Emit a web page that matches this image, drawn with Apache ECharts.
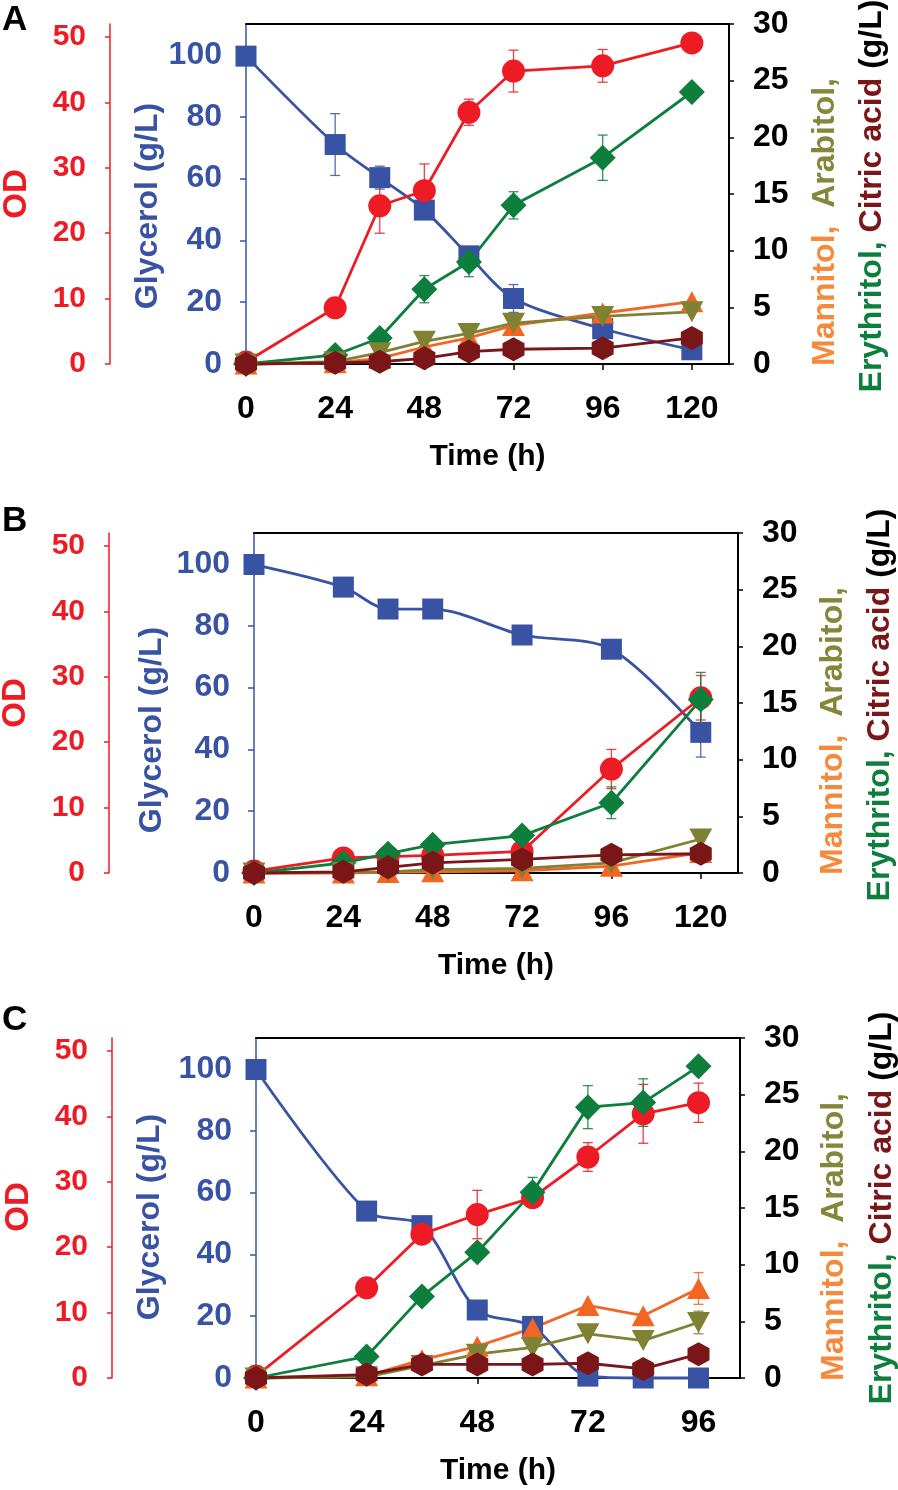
<!DOCTYPE html>
<html>
<head>
<meta charset="utf-8">
<script src="https://cdn.jsdelivr.net/npm/echarts@6/dist/echarts.min.js"></script>
<style>
html,body{margin:0;padding:0;background:#ffffff;}
#chart{width:898px;height:1490px;}
</style>
</head>
<body>
<div id="chart"></div>
<script>
// ---------------- DATA ----------------
// Panel A
const timeA = [0, 24, 36, 48, 60, 72, 96, 120];
const glyA  = [99.6, 71, 60.3, 49.8, 35, 21.2, 11.4, 4.6];
const glyErrA = [0, 10, 3.7, 0, 2, 4.5, 0, 0];
const odA   = [0.3, 8.6, 24.2, 26.5, 38.5, 44.8, 45.6, 49.1];
const odErrA = [0, 0.8, 4.2, 4.1, 2.0, 3.2, 2.5, 0];
const eryA  = [0, 0.8, 2.3, 6.6, 9.0, 14.0, 18.2, 24.0];
const eryErrA = [0, 0, 0, 1.2, 1.3, 1.2, 2.0, 0];
const manA  = [0, 0.1, 0.5, 1.5, 2.3, 3.4, 4.5, 5.5];
const araA  = [0, 0.2, 1.0, 2.0, 2.7, 3.6, 4.2, 4.6];
const citA  = [0, 0.1, 0.2, 0.5, 1.1, 1.3, 1.4, 2.3];

// Panel B
const timeB = [0, 24, 36, 48, 72, 96, 120];
const glyB  = [99.8, 92.5, 85.4, 85.4, 77, 72.4, 45.5];
const glyErrB = [0, 0, 0, 1.5, 0, 0, 8];
const odB   = [0.3, 2.3, 2.5, 2.7, 3.3, 15.9, 26.8];
const odErrB = [0, 0, 0, 0, 0, 3.0, 3.4];
const eryB  = [0, 0.9, 1.7, 2.5, 3.3, 6.2, 15.3];
const eryErrB = [0, 0, 0, 0, 0, 1.4, 2.4];
const manB  = [0, 0, 0.05, 0.1, 0.2, 0.6, 1.8];
const araB  = [0, 0.05, 0.1, 0.3, 0.4, 0.9, 3.0];
const citB  = [0, 0.1, 0.5, 0.9, 1.2, 1.6, 1.7];

// Panel C
const timeC = [0, 24, 36, 48, 60, 72, 84, 96];
const glyC  = [99.8, 54, 49.3, 22, 16.7, 0.6, 0, 0];
const glyErrC = [0, 0, 0, 1.5, 0, 0, 0, 0];
const odC   = [0.3, 13.8, 22, 25, 27.6, 33.8, 40.4, 42.1];
const odErrC = [0, 0, 0, 3.7, 0.8, 2.2, 4.5, 3.0];
const eryC  = [0, 1.9, 7.2, 11.1, 16.4, 23.9, 24.3, 27.5];
const eryErrC = [0, 0, 0, 0, 1.3, 1.9, 2.1, 0];
const manC  = [0, 0.2, 1.6, 2.8, 4.4, 6.4, 5.5, 7.9];
const manErrC = [0, 0, 0, 0, 0, 0, 0, 1.4];
const araC  = [0, 0.1, 1.1, 2.1, 2.7, 3.9, 3.3, 4.9];
const araErrC = [0, 0, 0, 0, 0, 0, 0, 1.0];
const citC  = [0, 0.3, 1.2, 1.2, 1.2, 1.3, 0.8, 2.1];

// Tick labels
const timeTicksAB = [0, 24, 48, 72, 96, 120];
const timeTicksC  = [0, 24, 48, 72, 96];
const odTicks  = [0, 10, 20, 30, 40, 50];
const glyTicks = [0, 20, 40, 60, 80, 100];
const rightTicks = [0, 5, 10, 15, 20, 25, 30];

// ---------------- STYLE / LAYOUT ----------------
const FONT = '"Liberation Sans", Arial, Helvetica, sans-serif';
const C_OD = '#ED1C24', C_GLY = '#3953A4', C_ERY = '#0E7E3C',
      C_MAN = '#F26522', C_ARA = '#7F8133', C_CIT = '#7A1518';
const C_MAN_T = '#F58A3C', C_ARA_T = '#84863A';
const HEX = 'path://M0,-10L8.66,-5L8.66,5L0,10L-8.66,5L-8.66,-5Z';

const panels = [
  { letter:'A', left:246, top:24, width:483, xMax:130, odOffset:136, letterY:20,
    odT:[17,194], glyT:[148,206], r1:[825,222], r2:[872,196],
    time:timeA, gly:glyA, glyErr:glyErrA, od:odA, odErr:odErrA, ery:eryA, eryErr:eryErrA,
    man:manA, manErr:null, ara:araA, araErr:null, cit:citA, xTicks:timeTicksAB },
  { letter:'B', left:254, top:533, width:484, xMax:130, odOffset:145, letterY:521,
    odT:[16,703], glyT:[152,730], r1:[833,731], r2:[880,705],
    time:timeB, gly:glyB, glyErr:glyErrB, od:odB, odErr:odErrB, ery:eryB, eryErr:eryErrB,
    man:manB, manErr:null, ara:araB, araErr:null, cit:citB, xTicks:timeTicksAB },
  { letter:'C', left:256, top:1038, width:484, xMax:105, odOffset:144, letterY:1020,
    odT:[19,1207], glyT:[150,1217], r1:[834,1237], r2:[882,1208],
    time:timeC, gly:glyC, glyErr:glyErrC, od:odC, odErr:odErrC, ery:eryC, eryErr:eryErrC,
    man:manC, manErr:manErrC, ara:araC, araErr:araErrC, cit:citC, xTicks:timeTicksC }
];
const GRID_H = 340;

function pts(t, v) { return t.map((x, i) => [x, v[i]]); }
function errPts(t, v, e) {
  const out = [];
  if (!e) return out;
  t.forEach((x, i) => { if (e[i] > 0) out.push([x, v[i] - e[i], v[i] + e[i]]); });
  return out;
}
function errSeries(data, color, xi, yi) {
  return {
    type:'custom', xAxisIndex:xi, yAxisIndex:yi, data, silent:true, clip:false, animation:false,
    renderItem(params, api) {
      const x = api.value(0), lo = api.value(1), hi = api.value(2);
      const a = api.coord([x, hi]), b = api.coord([x, lo]);
      const w = 5;
      const st = { stroke: color, lineWidth: 1.3, opacity: 0.85 };
      return { type:'group', children:[
        { type:'line', z2:100, shape:{x1:a[0], y1:a[1], x2:b[0], y2:b[1]}, style:st },
        { type:'line', z2:100, shape:{x1:a[0]-w, y1:a[1], x2:a[0]+w, y2:a[1]}, style:st },
        { type:'line', z2:100, shape:{x1:b[0]-w, y1:b[1], x2:b[0]+w, y2:b[1]}, style:st }
      ]};
    }
  };
}
function lineSeries(name, data, color, symbol, size, xi, yi, extra) {
  return Object.assign({
    type:'line', name, data, xAxisIndex:xi, yAxisIndex:yi, symbol, symbolSize:size,
    showAllSymbol:true, clip:false, animation:false,
    itemStyle:{ color, borderWidth:0, opacity:1 },
    lineStyle:{ color, width:2.8 },
    emphasis:{ disabled:true }
  }, extra || {});
}
function labelStyle(color, size) {
  return { color, fontSize:size, fontWeight:'bold', fontFamily:FONT };
}

const grid = [], xAxis = [], yAxis = [], series = [], graphic = [];

panels.forEach((p, k) => {
  grid.push({ left:p.left, top:p.top, width:p.width, height:GRID_H, outerBoundsMode:'none', containLabel:false });
  // bottom x axis
  xAxis.push({
    type:'value', gridIndex:k, position:'bottom', min:0, max:p.xMax, interval:24,
    name:'Time (h)', nameLocation:'middle', nameGap:78,
    nameTextStyle: labelStyle('#000', 30),
    axisLine:{ show:true, onZero:false, lineStyle:{ color:'#000', width:2 } },
    axisTick:{ show:true, inside:false, length:6, lineStyle:{ color:'#000', width:1.5 }, customValues:p.xTicks },
    axisLabel:Object.assign({ show:true, margin:29, customValues:p.xTicks,
      formatter: v => (v % 24 === 0 ? String(v) : '') }, labelStyle('#000', 32)),
    splitLine:{ show:false }
  });
  // top border
  xAxis.push({
    type:'value', gridIndex:k, position:'top', min:0, max:p.xMax, interval:24,
    axisLine:{ show:true, onZero:false, lineStyle:{ color:'#000', width:2 } },
    axisTick:{ show:false }, axisLabel:{ show:false }, splitLine:{ show:false }
  });
  // glycerol axis
  yAxis.push({
    type:'value', gridIndex:k, position:'left', min:0, max:110, interval:20,
    axisLine:{ show:true, onZero:false, lineStyle:{ color:C_GLY, width:1.5 } },
    axisTick:{ show:true, inside:false, length:6, lineStyle:{ color:C_GLY, width:1.5 }, customValues:glyTicks },
    axisLabel:Object.assign({ show:true, margin:24, customValues:glyTicks,
      formatter: v => (v % 20 === 0 && v <= 100 ? String(v) : '') }, labelStyle(C_GLY, 32)),
    splitLine:{ show:false }
  });
  // OD axis
  yAxis.push({
    type:'value', gridIndex:k, position:'left', offset:p.odOffset, min:0, max:52, interval:10,
    axisLine:{ show:true, onZero:false, lineStyle:{ color:C_OD, width:1.5 } },
    axisTick:{ show:true, inside:false, length:5, lineStyle:{ color:C_OD, width:1.5 }, customValues:odTicks },
    axisLabel:Object.assign({ show:true, margin:24, customValues:odTicks,
      formatter: v => (v % 10 === 0 && v <= 50 ? String(v) : '') }, labelStyle(C_OD, 30)),
    splitLine:{ show:false }
  });
  // right axis
  yAxis.push({
    type:'value', gridIndex:k, position:'right', min:0, max:30, interval:5,
    axisLine:{ show:true, onZero:false, lineStyle:{ color:'#000', width:2 } },
    axisTick:{ show:true, inside:false, length:5, lineStyle:{ color:'#000', width:1.5 }, customValues:rightTicks },
    axisLabel:Object.assign({ show:true, margin:24, customValues:rightTicks }, labelStyle('#000', 32)),
    splitLine:{ show:false }
  });

  const xi = 2 * k, yG = 3 * k, yO = 3 * k + 1, yR = 3 * k + 2;
  series.push(errSeries(errPts(p.time, p.gly, p.glyErr), C_GLY, xi, yG));
  series.push(lineSeries('Glycerol', pts(p.time, p.gly), C_GLY, 'rect', 21, xi, yG, { smooth:0.3 }));
  series.push(errSeries(errPts(p.time, p.od, p.odErr), C_OD, xi, yO));
  series.push(lineSeries('OD', pts(p.time, p.od), C_OD, 'circle', 23, xi, yO));
  series.push(errSeries(errPts(p.time, p.ery, p.eryErr), C_ERY, xi, yR));
  series.push(lineSeries('Erythritol', pts(p.time, p.ery), C_ERY, 'diamond', 26, xi, yR));
  series.push(errSeries(errPts(p.time, p.man, p.manErr), C_MAN, xi, yR));
  series.push(lineSeries('Mannitol', pts(p.time, p.man), C_MAN, 'triangle', [23, 21], xi, yR));
  series.push(errSeries(errPts(p.time, p.ara, p.araErr), C_ARA, xi, yR));
  series.push(lineSeries('Arabitol', pts(p.time, p.ara), C_ARA, 'triangle', [23, 21], xi, yR, { symbolRotate:180 }));
  series.push(lineSeries('Citric acid', pts(p.time, p.cit), C_CIT, HEX, [22, 24], xi, yR));

  // texts
  graphic.push({ type:'text', x:2, y:p.letterY, silent:true,
    style:{ text:p.letter, fill:'#000', fontSize:35, fontWeight:'bold', fontFamily:FONT, align:'left', verticalAlign:'middle' } });
  graphic.push({ type:'text', x:p.odT[0], y:p.odT[1], rotation:Math.PI/2, silent:true,
    style:{ text:'OD', fill:C_OD, fontSize:33, fontWeight:'bold', fontFamily:FONT, align:'center', verticalAlign:'middle' } });
  graphic.push({ type:'text', x:p.glyT[0], y:p.glyT[1], rotation:Math.PI/2, silent:true,
    style:{ text:'Glycerol (g/L)', fill:C_GLY, fontSize:32, fontWeight:'bold', fontFamily:FONT, align:'center', verticalAlign:'middle' } });
  const rs = (c) => ({ fill:c, fontSize:32, fontWeight:'bold', fontFamily:FONT });
  graphic.push({ type:'text', x:p.r1[0], y:p.r1[1], rotation:Math.PI/2, silent:true,
    style:{ text:'{m|Mannitol,}{s|  }{a|Arabitol,}', fontSize:32, fontWeight:'bold', fontFamily:FONT,
      align:'center', verticalAlign:'middle',
      rich:{ m:rs(C_MAN_T), s:rs('#000'), a:rs(C_ARA_T) } } });
  graphic.push({ type:'text', x:p.r2[0], y:p.r2[1], rotation:Math.PI/2, silent:true,
    style:{ text:'{e|Erythritol,}{s| }{c|Citric acid}{s| }{k|(g/L)}', fontSize:32, fontWeight:'bold', fontFamily:FONT,
      align:'center', verticalAlign:'middle',
      rich:{ e:rs(C_ERY), s:rs('#000'), c:rs(C_CIT), k:rs('#000') } } });
});

const chart = echarts.init(document.getElementById('chart'), null, { renderer:'canvas' });
chart.setOption({
  animation:false,
  backgroundColor:'#ffffff',
  grid, xAxis, yAxis, series, graphic
});
</script>
</body>
</html>
